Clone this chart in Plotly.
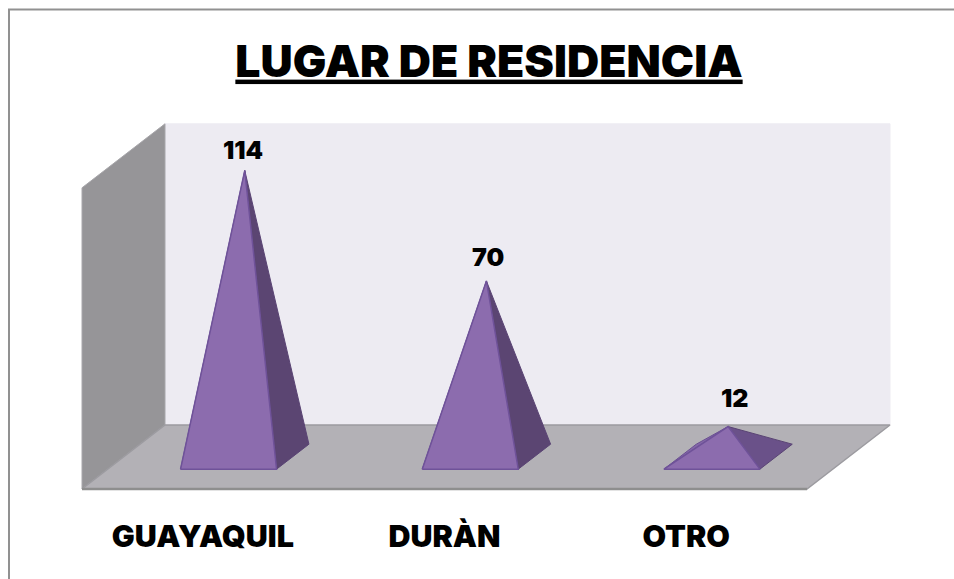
import plotly.graph_objects as go

# Data
categories = ["GUAYAQUIL", "DURÀN", "OTRO"]
values = [114, 70, 12]
value_max = 120

# Pixel geometry of the oblique projection (chart scale)
W, H = 954, 579
PLOT_BOTTOM = 510
ORIGIN_X, ORIGIN_Y = 82, 489
UNIT_X = 241.67      # px per category
UNIT_Y = 2.51        # px per value
DEPTH_X, DEPTH_Y = 83, 64  # px of full floor depth
DX, DY = DEPTH_X / UNIT_X, DEPTH_Y / UNIT_Y  # depth in data units
HALF_W = 48 / UNIT_X
D_FRONT, D_BACK = 0.31, 0.70
D_MID = (D_FRONT + D_BACK) / 2
LABEL_YSHIFT = [4, 7, 12]
LABEL_XSHIFT = [-2, 2, 6]

FONT = "Inter"


def proj(u, d, v):
    return u + DX * d, v + DY * d


def poly(fig, pts, fill, line, width=1):
    xs = [p[0] for p in pts] + [pts[0][0]]
    ys = [p[1] for p in pts] + [pts[0][1]]
    fig.add_trace(go.Scatter(x=xs, y=ys, mode="lines", fill="toself", fillcolor=fill,
                             line=dict(color=line, width=width), hoverinfo="skip",
                             showlegend=False))


fig = go.Figure()
n = len(categories)

# Walls and floor
poly(fig, [proj(0, 1, 0), proj(n, 1, 0), proj(n, 1, value_max), proj(0, 1, value_max)],
     "#EDEBF2", "#EDEBF2")
poly(fig, [proj(0, 0, 0), proj(0, 1, 0), proj(0, 1, value_max), proj(0, 0, value_max)],
     "#969598", "#A8A7AB")
poly(fig, [proj(0, 0, 0), proj(n, 0, 0), proj(n, 1, 0), proj(0, 1, 0)],
     "#B3B1B6", "#9C9BA0", 1.5)
fig.add_trace(go.Scatter(x=[proj(0, 0, 0)[0], proj(n, 0, 0)[0]], y=[0, 0], mode="lines",
                         line=dict(color="#8E8E8E", width=2.5), hoverinfo="skip", showlegend=False))

# Pyramids
for i, v in enumerate(values):
    c = i + 0.5
    fl = proj(c - HALF_W, D_FRONT, 0)
    fr = proj(c + HALF_W, D_FRONT, 0)
    bl = proj(c - HALF_W, D_BACK, 0)
    br = proj(c + HALF_W, D_BACK, 0)
    apex = proj(c, D_MID, v)
    poly(fig, [fl, bl, apex], "#8467A8", "#6A4F92")
    poly(fig, [fr, br, apex], "#5B4572" if v > 30 else "#6A5189", "#5A4474")
    poly(fig, [fl, fr, apex], "#8C6CAE", "#6F5299", 1.5)
    fig.add_annotation(x=apex[0], y=apex[1], text=str(v), showarrow=False, xanchor="center",
                       yanchor="bottom", xshift=LABEL_XSHIFT[i], yshift=LABEL_YSHIFT[i],
                       font=dict(family=FONT, size=25, color="black", weight=900))

fig.update_layout(
    width=W, height=H, margin=dict(l=0, r=0, t=0, b=H - PLOT_BOTTOM),
    paper_bgcolor="white", plot_bgcolor="rgba(0,0,0,0)", showlegend=False,
    title=dict(text="LUGAR DE RESIDENCIA", x=489 / W, xanchor="center", y=1 - 61 / H,
               yanchor="middle",
               font=dict(family=FONT, size=44.6, color="black", weight=900, lineposition="under")),
    xaxis=dict(range=[-ORIGIN_X / UNIT_X, (W - ORIGIN_X) / UNIT_X], tickvals=[i + 0.5 for i in range(n)],
               ticktext=categories, showgrid=False, zeroline=False, showline=False, ticks="",
               ticklabelstandoff=5,
               tickfont=dict(family=FONT, size=30.5, color="black", weight=900)),
    yaxis=dict(range=[(ORIGIN_Y - PLOT_BOTTOM) / UNIT_Y, ORIGIN_Y / UNIT_Y], visible=False),
    shapes=[dict(type="path", xref="paper", yref="paper",
                 path=f"M {9/W},{(PLOT_BOTTOM-H)/PLOT_BOTTOM} L {9/W},{(PLOT_BOTTOM-9.5)/PLOT_BOTTOM} L 1,{(PLOT_BOTTOM-9.5)/PLOT_BOTTOM}",
                 line=dict(color="#919191", width=2), layer="below")],
)
fig.write_html("out.html", config={"displayModeBar": False},
               post_script="document.body.style.margin='0';")
